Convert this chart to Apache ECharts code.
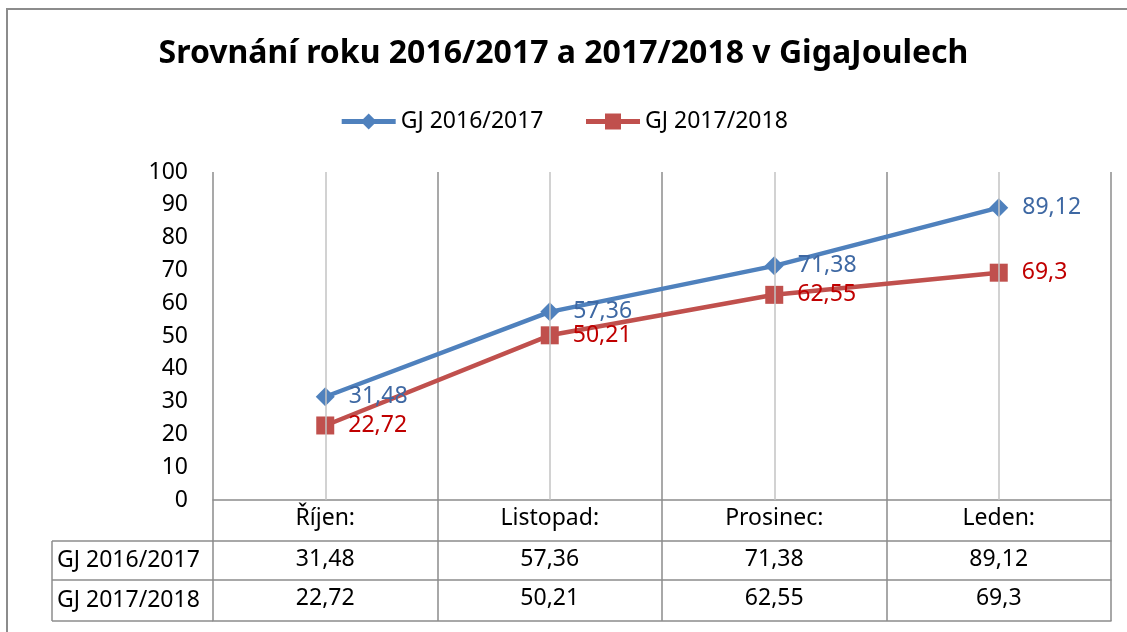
<!DOCTYPE html>
<html>
<head>
<meta charset="utf-8">
<script src="https://cdn.jsdelivr.net/npm/echarts@6/dist/echarts.min.js"></script>
<style>
  html, body { margin: 0; padding: 0; background: #fff; }
  #main { width: 1127px; height: 632px; }
</style>
</head>
<body>
<div id="main"></div>
<script>
// data
var months = ['Říjen:', 'Listopad:', 'Prosinec:', 'Leden:'];
var seriesNames = ['GJ 2016/2017', 'GJ 2017/2018'];
var gj1617 = [31.48, 57.36, 71.38, 89.12];
var gj1718 = [22.72, 50.21, 62.55, 69.3];

(function () {
    var FONT = '"Noto Sans", "DejaVu Sans", sans-serif';
    var FS = 23;
    var GRID_LINE = '#8c8c8c';
    var LIGHT_LINE = '#c3c3c3';

    // czech decimal comma
    function fmt(v) { return String(v).replace('.', ','); }

    var gridLeft = 213, gridRight = 16, gridTop = 172, gridBottom = 132;
    var axisY = 632 - gridBottom;      // y of the x axis line
    var rowH = [41, 39, 41];           // category row, row 1, row 2
    var tableLeft = 52;

    var myChart = echarts.init(document.getElementById('main'));

    function tableAxis(data, offset, tickLen, showLabel) {
        return {
            type: 'category',
            position: 'bottom',
            offset: offset,
            data: data,
            boundaryGap: true,
            axisLine: { show: true, lineStyle: { color: GRID_LINE, width: 1.5 } },
            axisTick: { show: tickLen > 0, length: tickLen, interval: 0, lineStyle: { color: GRID_LINE, width: 1.5 } },
            axisLabel: { show: showLabel, interval: 0, margin: 7, fontSize: FS, color: '#000', fontFamily: FONT },
            splitLine: { show: false }
        };
    }

    var xMain = tableAxis(months, 0, rowH[0], true);
    xMain.splitLine = { show: true, interval: 0, lineStyle: { color: GRID_LINE, width: 1.5 } };

    var y1 = axisY + rowH[0], y2 = y1 + rowH[1], y3 = y2 + rowH[2];

    var option = {
        backgroundColor: '#fff',
        animation: false,
        title: {
            text: 'Srovnání roku 2016/2017 a 2017/2018 v GigaJoulech',
            left: 'center',
            top: 33,
            textStyle: { fontSize: 32, fontWeight: 'bold', color: '#000', fontFamily: FONT }
        },
        legend: {
            data: seriesNames,
            top: 105,
            left: 'center',
            itemWidth: 54,
            itemHeight: 20,
            itemGap: 40,
            lineStyle: { width: 5 },
            textStyle: { fontSize: FS, color: '#000', fontFamily: FONT }
        },
        grid: { left: gridLeft, right: gridRight, top: gridTop, bottom: gridBottom },
        xAxis: [
            xMain,
            tableAxis(gj1617.map(fmt), rowH[0], rowH[1], true),
            tableAxis(gj1718.map(fmt), rowH[0] + rowH[1], rowH[2], true),
            tableAxis(months, rowH[0] + rowH[1] + rowH[2], 0, false)
        ],
        yAxis: {
            type: 'value',
            min: 0,
            max: 100,
            interval: 10,
            axisLine: { show: false },
            axisTick: { show: false },
            splitLine: { show: false },
            axisLabel: { fontSize: FS, color: '#000', margin: 25, fontFamily: FONT }
        },
        graphic: [
            // outer chart frame
            { type: 'rect', shape: { x: 7, y: 9, width: 1200, height: 700 },
              style: { fill: 'none', stroke: GRID_LINE, lineWidth: 2 }, silent: true },
            // row header column of the data table
            { type: 'line', shape: { x1: tableLeft, y1: y1, x2: gridLeft, y2: y1 }, style: { stroke: GRID_LINE, lineWidth: 1.5 } },
            { type: 'line', shape: { x1: tableLeft, y1: y2, x2: gridLeft, y2: y2 }, style: { stroke: GRID_LINE, lineWidth: 1.5 } },
            { type: 'line', shape: { x1: tableLeft, y1: y3, x2: gridLeft, y2: y3 }, style: { stroke: GRID_LINE, lineWidth: 1.5 } },
            { type: 'line', shape: { x1: tableLeft, y1: y1, x2: tableLeft, y2: y3 }, style: { stroke: GRID_LINE, lineWidth: 1.5 } },
            { type: 'text', x: tableLeft + 5, y: (y1 + y2) / 2,
              style: { text: seriesNames[0], fontSize: FS, fill: '#000', fontFamily: FONT, verticalAlign: 'middle' } },
            { type: 'text', x: tableLeft + 5, y: (y2 + y3) / 2,
              style: { text: seriesNames[1], fontSize: FS, fill: '#000', fontFamily: FONT, verticalAlign: 'middle' } }
        ],
        series: [
            {
                // light gridlines through each category centre
                type: 'line',
                data: [],
                z: 1,
                silent: true,
                markLine: {
                    silent: true,
                    symbol: ['none', 'none'],
                    label: { show: false },
                    lineStyle: { color: LIGHT_LINE, width: 1.5, type: 'solid' },
                    data: months.map(function (m) { return { xAxis: m }; })
                }
            },
            {
                name: seriesNames[0],
                type: 'line',
                data: gj1617,
                z: 3,
                symbol: 'diamond',
                symbolSize: 19,
                lineStyle: { color: '#4F81BD', width: 4.5 },
                itemStyle: { color: '#4F81BD' },
                label: { show: true, position: 'right', distance: 14, fontSize: FS,
                         color: '#3E68A3', fontFamily: FONT, formatter: function (p) { return fmt(p.value); } }
            },
            {
                name: seriesNames[1],
                type: 'line',
                data: gj1718,
                z: 3,
                symbol: 'rect',
                symbolSize: 18,
                lineStyle: { color: '#C0504D', width: 4.5 },
                itemStyle: { color: '#C0504D' },
                label: { show: true, position: 'right', distance: 14, fontSize: FS,
                         color: '#C00000', fontFamily: FONT, formatter: function (p) { return fmt(p.value); } }
            }
        ]
    };

    myChart.setOption(option);
    window.addEventListener('resize', function () {
        myChart.resize();
    });
})();
</script>
</body>
</html>
